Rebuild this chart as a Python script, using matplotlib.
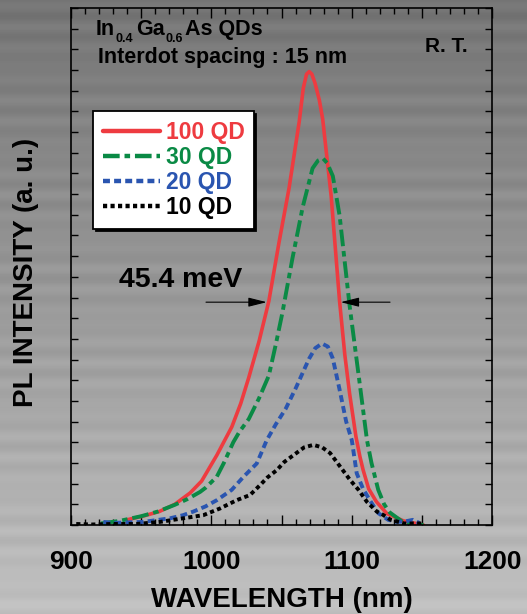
import numpy as np
import matplotlib
matplotlib.use('Agg')
import matplotlib.pyplot as plt
from matplotlib.ticker import MultipleLocator

plt.rcParams['font.family'] = ['Liberation Sans', 'DejaVu Sans']
plt.rcParams['font.weight'] = 'bold'
plt.rcParams['lines.scale_dashes'] = False

# Datos (longitud de onda en nm, intensidad relativa)
wl_100 = [940, 952.6, 963, 974.1, 985, 993.2, 1004, 1014.7, 1021, 1026.7, 1034, 1041.0,
          1048.2, 1055.4, 1062.6, 1065.5, 1067.8, 1069.7, 1071.6, 1073.8, 1076.9, 1079.3,
          1085.3, 1091.3, 1095, 1098.4, 1103, 1105.8, 1108.0, 1112, 1117.5, 1125, 1136.7, 1151.0]
pl_100 = [0.010, 0.018, 0.026, 0.040, 0.062, 0.085, 0.135, 0.190, 0.235, 0.285, 0.355, 0.433,
          0.546, 0.652, 0.780, 0.845, 0.872, 0.877, 0.872, 0.855, 0.822, 0.785,
          0.637, 0.433, 0.330, 0.255, 0.170, 0.132, 0.107, 0.070, 0.045, 0.022, 0.008, 0.0]

wl_30 = [921.5, 935, 950.2, 962, 974.1, 983, 992.1, 996, 1003.9, 1009, 1015.7, 1020, 1026.7,
         1034, 1041.0, 1046, 1050.6, 1057.8, 1065.0, 1072.1, 1076, 1079.5, 1082.5, 1086.5,
         1091.3, 1098.4, 1105.6, 1110.8, 1114, 1118.8, 1123, 1127.1, 1136.7, 1151.0]
pl_30 = [0.003, 0.008, 0.017, 0.026, 0.039, 0.050, 0.064, 0.072, 0.093, 0.120, 0.160, 0.180,
         0.205, 0.245, 0.289, 0.350, 0.410, 0.516, 0.614, 0.690, 0.705, 0.709, 0.700, 0.675,
         0.599, 0.425, 0.274, 0.164, 0.120, 0.068, 0.040, 0.024, 0.005, 0.0]

wl_20 = [923.3, 930, 940, 951.7, 960, 970.8, 980, 987.3, 996, 1004, 1014.6, 1022.9, 1032.4,
         1039.5, 1046, 1053.0, 1060.2, 1066, 1069.7, 1074, 1078.8, 1083, 1086.5, 1091.3,
         1096, 1100.0, 1103.5, 1108, 1112.8, 1118.8, 1125.9, 1132, 1138, 1143.5, 1148]
pl_20 = [0.006, 0.004, 0.005, 0.006, 0.009, 0.013, 0.019, 0.026, 0.036, 0.048, 0.068, 0.093, 0.119,
         0.164, 0.195, 0.225, 0.265, 0.300, 0.322, 0.342, 0.351, 0.345, 0.322, 0.262,
         0.200, 0.164, 0.100, 0.070, 0.048, 0.023, 0.010, 0.006, 0.007, 0.010, 0.004]

wl_10 = [904, 915, 930, 947, 963.6, 980.2, 994.4, 1006.3, 1018.1, 1027.6, 1034.7, 1040,
         1046.6, 1052, 1058.5, 1066, 1072.7, 1079, 1084.6, 1091.7, 1098.8, 1104.8, 1110.7,
         1117.8, 1122, 1127.7, 1137.2, 1151.4]
pl_10 = [0.002, 0.001, 0.002, 0.002, 0.006, 0.013, 0.019, 0.032, 0.048, 0.058, 0.077, 0.092,
         0.106, 0.122, 0.135, 0.150, 0.155, 0.150, 0.139, 0.113, 0.087, 0.068, 0.045,
         0.026, 0.020, 0.010, 0.003, 0.003]

etiquetas = ['100 QD', '30 QD', '20 QD', '10 QD']
colores = ['#ee3b40', '#0a8a45', '#2a55b0', '#000000']

W, H = 527, 614

# Crear la figura
fig = plt.figure(figsize=(5.27, 6.14), dpi=100)

# Fondo gris con degradado y franjas horizontales
bg = fig.add_axes([0, 0, 1, 1], zorder=-10)
filas = np.arange(H)
tono = 116 + (192 - 116) * (filas / (H - 1.0))
tono = tono + 6 * np.sin(filas * 2 * np.pi / 21.0) * np.sin(filas * 2 * np.pi / 170.0 + 0.7)
img = np.repeat(tono[:, None], 8, axis=1)
bg.imshow(img, cmap='gray', vmin=0, vmax=255, aspect='auto', extent=[0, 1, 0, 1])
bg.axis('off')

ax = fig.add_axes([70.6 / W, 1 - 525 / H, 421.8 / W, 517 / H])
ax.patch.set_alpha(0)

ax.plot(wl_100, pl_100, color=colores[0], lw=2.6, label=etiquetas[0], solid_capstyle='round',
        solid_joinstyle='round')
ax.plot(wl_30, pl_30, color=colores[1], lw=2.8, label=etiquetas[1],
        dashes=(12, 3.5, 4, 3.5))
ax.plot(wl_20, pl_20, color=colores[2], lw=2.8, label=etiquetas[2], dashes=(5, 3))
ax.plot(wl_10, pl_10, color=colores[3], lw=2.8, label=etiquetas[3], dashes=(3, 2.4))

ax.set_xlim(900, 1200)
ax.set_ylim(0, 1)
ax.xaxis.set_minor_locator(MultipleLocator(10))
ax.yaxis.set_major_locator(MultipleLocator(0.04))
ax.set_xticks([900, 950, 1000, 1050, 1100, 1150, 1200])
ax.set_xticklabels(['900', '', '1000', '', '1100', '', '1200'])
ax.set_yticklabels([])
ax.tick_params(which='both', direction='in', top=True, right=True, color='black', width=1.0)
ax.tick_params(axis='x', which='major', length=7.5, labelsize=19, pad=18)
ax.tick_params(axis='x', which='minor', length=4)
ax.tick_params(axis='y', which='major', length=5)
for s in ax.spines.values():
    s.set_linewidth(1.2)

# Leyenda con sombra negra
leg = ax.legend(loc='upper left', bbox_to_anchor=(0.054, 0.80), borderaxespad=0,
                fontsize=16.5, handlelength=2.5, handletextpad=0.25, labelspacing=0.1,
                borderpad=0.4, fancybox=False, edgecolor='black', framealpha=1,
                labelcolor='linecolor', shadow={'color': 'black', 'alpha': 1})
leg.get_frame().set_linewidth(1.3)
for linea in leg.get_lines():
    linea.set_linewidth(3.2)

# Textos (posiciones en pixeles de la figura)
def texto(x, y, s, size, **kw):
    fig.text(x / W, 1 - y / H, s, fontsize=size, va='baseline', ha='left', **kw)

texto(96, 35, 'In', 15.5)
texto(115, 41.5, '0.4', 9)
texto(136, 35, 'Ga', 15.5)
texto(165, 41.5, '0.6', 9)
texto(185, 35, 'As QDs', 15.5)
texto(98.5, 63.5, 'Interdot spacing : 15 nm', 15.5)
texto(425, 51.5, 'R. T.', 15)
ax.text(934.6, 0.461, '45.4 meV', fontsize=20.5, va='baseline', ha='left')

# Flechas del FWHM
flecha = dict(arrowstyle='-|>,head_length=0.8,head_width=0.2', color='black', lw=0.8,
              mutation_scale=14, shrinkA=0, shrinkB=0)
ax.annotate('', xy=(1039.5, 0.431), xytext=(996.3, 0.431), arrowprops=flecha)
ax.annotate('', xy=(1092.1, 0.431), xytext=(1127.2, 0.431), arrowprops=flecha)

fig.text(282 / W, 1 - 607 / H, 'WAVELENGTH (nm)', fontsize=20, ha='center', va='baseline')
fig.text(26 / W, 1 - 272 / H, 'PL INTENSITY (a. u.)', fontsize=20, rotation=90,
         ha='center', va='center')

fig.savefig('out.png', dpi=100)
